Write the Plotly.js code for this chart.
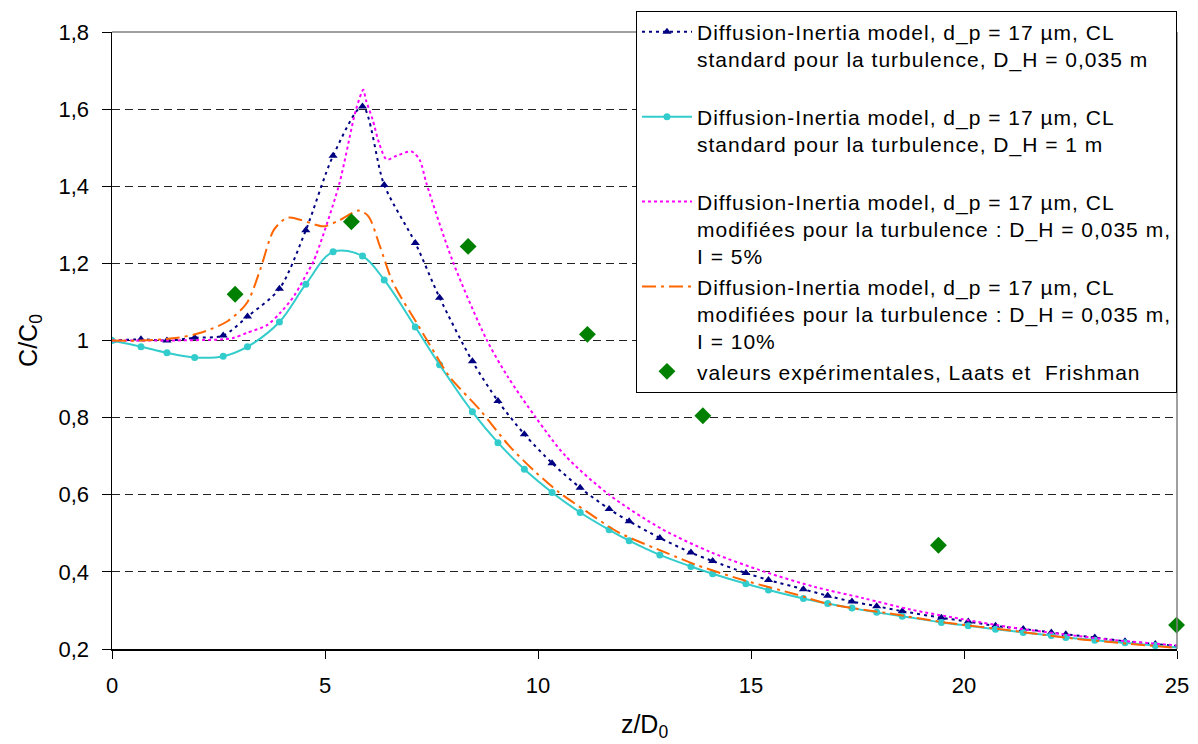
<!DOCTYPE html>
<html>
<head>
<meta charset="utf-8">
<script src="https://cdn.plot.ly/plotly-3.0.1.min.js"></script>
<style>
html,body{margin:0;padding:0;background:#fff;}
#chart{width:1198px;height:744px;}
.legendtext{letter-spacing:1px;}
</style>
</head>
<body>
<div id="chart"></div>
<script>
// Model grid (z/D0) shared by the two marked series
const zModel = [0, 0.68, 1.29, 1.94, 2.61, 3.18, 3.93, 4.55, 5.19, 5.88, 6.39, 7.12, 7.69, 8.46, 9.06, 9.68, 10.33, 10.99, 11.67, 12.14, 12.86, 13.59, 14.10, 14.88, 15.41, 16.23, 16.80, 17.37, 17.95, 18.55, 19.47, 20.10, 20.74, 21.39, 22.05, 22.39, 23.07, 23.78, 24.49, 25.15];
const stdDH0035 = [1.0, 1.003, 1.0, 1.007, 1.013, 1.062, 1.134, 1.286, 1.479, 1.607, 1.403, 1.253, 1.111, 0.946, 0.843, 0.757, 0.682, 0.618, 0.563, 0.531, 0.488, 0.450, 0.428, 0.397, 0.379, 0.355, 0.338, 0.323, 0.311, 0.298, 0.281, 0.271, 0.260, 0.252, 0.243, 0.238, 0.230, 0.220, 0.213, 0.206];
const stdDH1 = [1.0, 0.984, 0.968, 0.956, 0.959, 0.984, 1.048, 1.146, 1.230, 1.219, 1.157, 1.035, 0.937, 0.815, 0.735, 0.666, 0.606, 0.554, 0.509, 0.481, 0.444, 0.414, 0.395, 0.369, 0.353, 0.331, 0.318, 0.306, 0.295, 0.285, 0.269, 0.260, 0.251, 0.243, 0.235, 0.230, 0.223, 0.216, 0.209, 0.202];

// Modified BC, I = 5%
const zI5 = [0, 1.3, 2.6, 2.86, 3.17, 3.64, 3.95, 4.27, 4.58, 4.73, 5.32, 5.73, 5.9, 5.96, 6.12, 6.27, 6.45, 6.68, 7.03, 7.22, 7.38, 8.0, 8.79, 9.28, 9.95, 10.65, 11.67, 12.91, 14.08, 15.33, 16.5, 17.63, 18.76, 19.93, 21.1, 22.27, 23.44, 25.0];
const modI5 = [1.0, 1.0, 1.003, 1.007, 1.02, 1.04, 1.072, 1.115, 1.175, 1.205, 1.4, 1.6, 1.65, 1.624, 1.572, 1.512, 1.469, 1.479, 1.49, 1.469, 1.408, 1.205, 1.003, 0.908, 0.8, 0.70, 0.6, 0.511, 0.45, 0.4, 0.361, 0.332, 0.302, 0.278, 0.256, 0.239, 0.224, 0.209];

// Modified BC, I = 10%
const zI10 = [0, 0.7, 1.54, 2.08, 2.71, 3.17, 3.48, 3.8, 4.11, 4.42, 4.97, 5.36, 5.79, 6.02, 6.29, 6.6, 7.2, 7.62, 7.93, 8.63, 9.33, 9.96, 10.5, 11.12, 11.9, 13.0, 13.77, 14.87, 16.04, 16.81, 18.2, 19.54, 21.1, 22.66, 25.0];
const modI10 = [1.0, 1.0, 1.007, 1.02, 1.05, 1.098, 1.184, 1.287, 1.318, 1.313, 1.296, 1.313, 1.337, 1.322, 1.244, 1.149, 1.037, 0.959, 0.905, 0.821, 0.726, 0.657, 0.606, 0.558, 0.502, 0.45, 0.416, 0.377, 0.342, 0.317, 0.293, 0.269, 0.248, 0.226, 0.203];

// Experimental values (Laats & Frishman)
const zExp = [2.89, 5.62, 8.36, 11.16, 13.87, 19.40, 24.99];
const cExp = [1.120, 1.308, 1.244, 1.016, 0.805, 0.469, 0.262];

// Tick labels
const xTicks = [0, 5, 10, 15, 20, 25];
const yTicks = [0.2, 0.4, 0.6, 0.8, 1.0, 1.2, 1.4, 1.6, 1.8];
const yTickText = ['0,2', '0,4', '0,6', '0,8', '1', '1,2', '1,4', '1,6', '1,8'];

const names = [
  'Diffusion-Inertia model, d_p = 17 µm, CL<br>standard pour la turbulence, D_H = 0,035 m<br>\u00a0',
  'Diffusion-Inertia model, d_p = 17 µm, CL<br>standard pour la turbulence, D_H = 1 m<br>\u00a0',
  'Diffusion-Inertia model, d_p = 17 µm, CL<br>modifiées pour la turbulence : D_H = 0,035 m,<br>I = 5%',
  'Diffusion-Inertia model, d_p = 17 µm, CL<br>modifiées pour la turbulence : D_H = 0,035 m,<br>I = 10%',
  'valeurs expérimentales, Laats et\u00a0 Frishman'
];

const FONT = '"Liberation Sans", Arial, sans-serif';

const traces = [
  {x: zModel, y: stdDH0035, name: names[0], type: 'scatter', mode: 'lines+markers',
   line: {color: '#000080', width: 2, dash: '3px,4px', shape: 'spline', smoothing: 0.8},
   marker: {symbol: 'triangle-up', size: 8, color: '#000080'}},
  {x: zModel, y: stdDH1, name: names[1], type: 'scatter', mode: 'lines+markers',
   line: {color: '#33CCCC', width: 2, shape: 'spline', smoothing: 1},
   marker: {symbol: 'circle', size: 7, color: '#33CCCC'}},
  {x: zI5, y: modI5, name: names[2], type: 'scatter', mode: 'lines',
   line: {color: '#FF00FF', width: 2, dash: '3px,3px', shape: 'spline', smoothing: 0.8}},
  {x: zI10, y: modI10, name: names[3], type: 'scatter', mode: 'lines',
   line: {color: '#FF6600', width: 2, dash: '14px,5px,3px,5px', shape: 'spline', smoothing: 0.8}},
  {x: zExp, y: cExp, name: names[4], type: 'scatter', mode: 'markers', cliponaxis: false,
   marker: {symbol: 'diamond', size: 13, color: '#008000'}}
];

const layout = {
  width: 1198, height: 744,
  paper_bgcolor: '#fff', plot_bgcolor: '#fff',
  margin: {l: 112, r: 21, t: 31, b: 95},
  font: {family: FONT, color: '#000', size: 22},
  showlegend: true,
  xaxis: {
    range: [0, 25], tickvals: xTicks, ticks: 'outside', ticklen: 8, tickcolor: '#000',
    showline: true, linecolor: '#000', linewidth: 1.5, showgrid: false, zeroline: false,
    tickfont: {size: 22, family: FONT}, ticklabelstandoff: 8,
    title: {text: 'z/D<sub>0</sub>', font: {size: 25, family: FONT}, standoff: 18}
  },
  yaxis: {
    range: [0.2, 1.8], tickvals: yTicks, ticktext: yTickText, ticks: 'outside', ticklen: 9, tickcolor: '#000',
    showline: true, linecolor: '#000', linewidth: 1.5, zeroline: false,
    showgrid: true, gridcolor: '#222', gridwidth: 1, griddash: '8px,5px',
    tickfont: {size: 22, family: FONT}, ticklabelstandoff: 8,
    title: {text: 'C/C<sub>0</sub>', font: {size: 25, family: FONT}, standoff: 14}
  },
  legend: {
    x: 0.492, xanchor: 'left', y: 1.033, yanchor: 'top', maxheight: 480,
    bgcolor: '#fff', bordercolor: '#000', borderwidth: 1,
    font: {size: 21, family: FONT, color: '#000'},
    valign: 'top', itemwidth: 50, tracegroupgap: 0
  },
  shapes: [
    {type: 'line', xref: 'paper', yref: 'paper', x0: 0, x1: 1, y0: 1, y1: 1, line: {color: '#808080', width: 1.5}},
    {type: 'line', xref: 'paper', yref: 'paper', x0: 1, x1: 1, y0: 0, y1: 1, line: {color: '#808080', width: 1.5}}
  ]
};

Plotly.newPlot('chart', traces, layout, {displayModeBar: false, staticPlot: true});
</script>
</body>
</html>
